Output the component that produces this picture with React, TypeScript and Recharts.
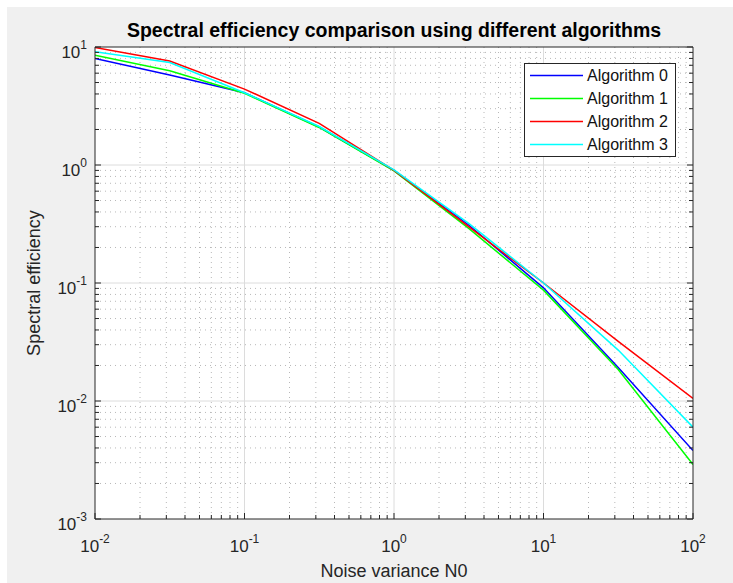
import React from 'react';
import { LineChart, Line, XAxis, YAxis, CartesianGrid, Legend } from 'recharts';

// noise variance N0 (half-decade steps) and spectral efficiency per algorithm
const noiseVar = [0.01, 0.0316, 0.1, 0.316, 1, 3.16, 10, 31.6, 100];
const algo0 = [8.0, 5.8, 4.1, 2.1, 0.9, 0.31, 0.091, 0.0192, 0.0038];
const algo1 = [8.5, 6.3, 4.05, 2.08, 0.89, 0.29, 0.087, 0.0185, 0.0029];
const algo2 = [9.9, 7.6, 4.4, 2.25, 0.9, 0.3, 0.1, 0.032, 0.0105];
const algo3 = [9.1, 7.4, 4.1, 2.12, 0.91, 0.32, 0.1, 0.027, 0.006];

const seriesNames = ['Algorithm 0', 'Algorithm 1', 'Algorithm 2', 'Algorithm 3'];
const seriesKeys = ['a0', 'a1', 'a2', 'a3'];
const seriesColors = ['#0000ff', '#00ff00', '#ff0000', '#00ffff'];

const xDecades = [0.01, 0.1, 1, 10, 100];
const yDecades = [0.001, 0.01, 0.1, 1, 10];

const FONT = '"Liberation Sans", Arial, Helvetica, sans-serif';
const AXIS = '#262626';

const minorsOf = (decades: number[]) => {
  const out: number[] = [];
  for (let i = 0; i < decades.length - 1; i++) {
    for (let k = 2; k <= 9; k++) out.push(+(decades[i] * k).toPrecision(3));
  }
  return out;
};

const xMinor = minorsOf(xDecades);
const yMinor = minorsOf(yDecades);
const xTicks = [...xDecades, ...xMinor].sort((a, b) => a - b);
const yTicks = [...yDecades, ...yMinor].sort((a, b) => a - b);

const data = noiseVar.map((n, i) => ({
  n0: n,
  a0: algo0[i],
  a1: algo1[i],
  a2: algo2[i],
  a3: algo3[i],
}));

const isMajor = (v: number, majors: number[]) => majors.some((m) => Math.abs(m - v) / m < 1e-6);

type Side = 'bottom' | 'top' | 'left' | 'right';

// inward MATLAB-style ticks, with 10^n labels on the bottom/left sides
const makeTick = (side: Side, majors: number[]) => (props: any) => {
  const { x, y, payload } = props;
  const v = Number(payload.value);
  const major = isMajor(v, majors);
  const len = major ? 6 : 4;
  let x2 = x;
  let y2 = y;
  if (side === 'bottom') y2 = y - len;
  else if (side === 'top') y2 = y + len;
  else if (side === 'left') x2 = x + len;
  else x2 = x - len;
  const exp = Math.round(Math.log10(v));
  let label = null;
  if (major && side === 'bottom') {
    label = (
      <text x={x} y={y + 33} textAnchor="middle" fill={AXIS} fontSize={17} fontFamily={FONT}>
        10<tspan dy={-9} fontSize={12}>{exp}</tspan>
      </text>
    );
  } else if (major && side === 'left') {
    label = (
      <text x={x - 8} y={y + 11} textAnchor="end" fill={AXIS} fontSize={17} fontFamily={FONT}>
        10<tspan dy={-9} fontSize={12}>{exp}</tspan>
      </text>
    );
  }
  return (
    <g>
      <line x1={x} y1={y} x2={x2} y2={y2} stroke={AXIS} strokeWidth={1} />
      {label}
    </g>
  );
};

const LegendBox = (props: any) => {
  const payload = props.payload || [];
  return (
    <div
      style={{
        width: 152,
        height: 94,
        boxSizing: 'border-box',
        background: '#fff',
        border: `1px solid ${AXIS}`,
        paddingTop: 0,
        fontFamily: FONT,
        fontSize: 16,
        color: '#111',
      }}
    >
      {payload.map((p: any) => (
        <div key={p.value} style={{ display: 'flex', alignItems: 'center', height: 23 }}>
          <svg width={62} height={23} style={{ display: 'block' }}>
            <line x1={5} y1={11.5} x2={58} y2={11.5} stroke={p.color} strokeWidth={1.5} />
          </svg>
          <span style={{ whiteSpace: 'nowrap', lineHeight: '23px' }}>{p.value}</span>
        </div>
      ))}
    </div>
  );
};

export default function App() {
  return (
    <div style={{ position: 'absolute', left: 0, top: 0, width: 733, height: 583, background: '#fff' }}>
      <div style={{ position: 'absolute', left: 7, top: 7, width: 726, height: 576, background: '#f0f0f0' }} />
      <div style={{ position: 'absolute', left: 0, top: 0 }}>
        <LineChart
          width={733}
          height={583}
          data={data}
          margin={{ top: 37, right: 30, bottom: 34, left: 35 }}
        >
          <CartesianGrid
            fill="#ffffff"
            fillOpacity={1}
            stroke="#b8b8b8"
            strokeDasharray="1 4"
            verticalValues={xMinor}
            horizontalValues={yMinor}
          />
          <CartesianGrid
            stroke="#dcdcdc"
            verticalValues={[0.1, 1, 10]}
            horizontalValues={[0.01, 0.1, 1]}
          />
          <XAxis
            dataKey="n0"
            type="number"
            scale="log"
            domain={[0.01, 100]}
            allowDataOverflow
            ticks={xTicks}
            interval={0}
            height={30}
            tickSize={0}
            tickMargin={0}
            axisLine={{ stroke: AXIS }}
            tick={makeTick('bottom', xDecades)}
          />
          <XAxis
            xAxisId="top"
            orientation="top"
            type="number"
            scale="log"
            domain={[0.01, 100]}
            allowDataOverflow
            ticks={xTicks}
            interval={0}
            height={10}
            tickSize={0}
            tickMargin={0}
            axisLine={{ stroke: AXIS }}
            tick={makeTick('top', xDecades)}
          />
          <YAxis
            type="number"
            scale="log"
            domain={[0.001, 10]}
            allowDataOverflow
            ticks={yTicks}
            interval={0}
            width={60}
            tickSize={0}
            tickMargin={0}
            axisLine={{ stroke: AXIS }}
            tick={makeTick('left', yDecades)}
          />
          <YAxis
            yAxisId="right"
            orientation="right"
            type="number"
            scale="log"
            domain={[0.001, 10]}
            allowDataOverflow
            ticks={yTicks}
            interval={0}
            width={10}
            tickSize={0}
            tickMargin={0}
            axisLine={{ stroke: AXIS }}
            tick={makeTick('right', yDecades)}
          />
          <Legend
            layout="vertical"
            align="center"
            verticalAlign="middle"
            wrapperStyle={{ position: 'absolute', left: 524, top: 63, width: 152, height: 94 }}
            content={LegendBox}
          />
          {seriesKeys.map((k, i) => (
            <Line
              key={k}
              type="linear"
              dataKey={k}
              name={seriesNames[i]}
              stroke={seriesColors[i]}
              strokeWidth={1.5}
              dot={false}
              activeDot={false}
              isAnimationActive={false}
            />
          ))}
        </LineChart>
      </div>
      <svg
        width={733}
        height={583}
        style={{ position: 'absolute', left: 0, top: 0, pointerEvents: 'none' }}
      >
        <text x={394} y={37} textAnchor="middle" fontFamily={FONT} fontSize={19.5} fontWeight="bold" fill="#000">
          Spectral efficiency comparison using different algorithms
        </text>
        <text x={394} y={577} textAnchor="middle" fontFamily={FONT} fontSize={18} fill={AXIS}>
          Noise variance N0
        </text>
        <text
          x={40}
          y={283}
          textAnchor="middle"
          fontFamily={FONT}
          fontSize={18}
          fill={AXIS}
          transform="rotate(-90, 40, 283)"
        >
          Spectral efficiency
        </text>
      </svg>
    </div>
  );
}
